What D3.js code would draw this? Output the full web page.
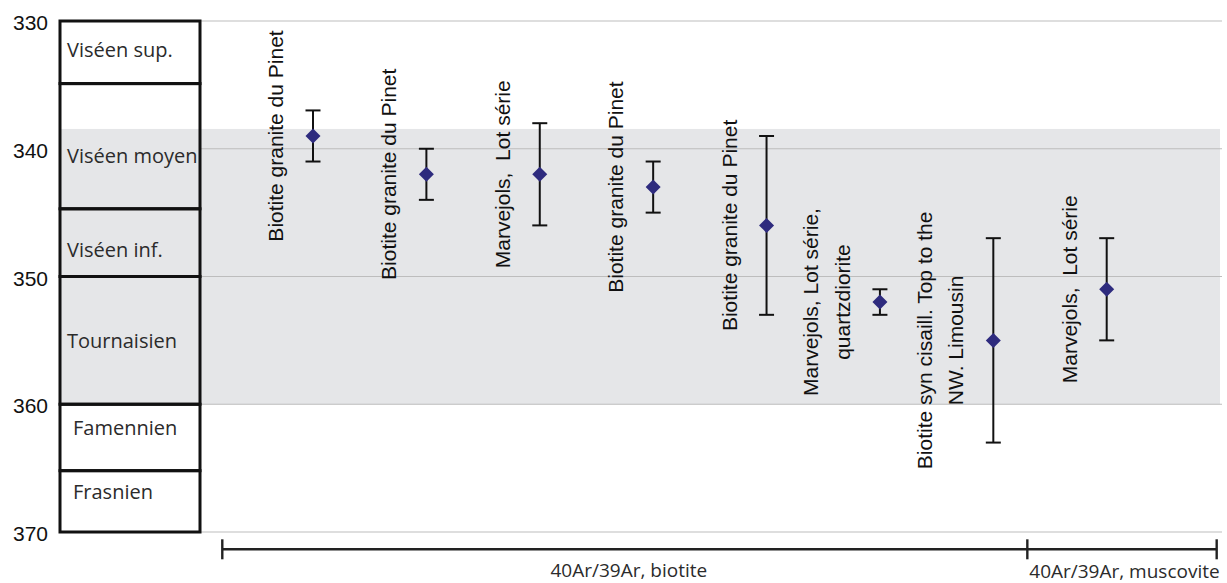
<!DOCTYPE html>
<html>
<head>
<meta charset="utf-8">
<script src="https://cdn.jsdelivr.net/npm/d3@7"></script>
<style>
  html, body { margin: 0; padding: 0; background: #ffffff; }
  svg { display: block; }
  .sample-label { white-space: pre; }
</style>
</head>
<body>
<svg id="chart" width="1227" height="583"></svg>
<script>
// Age axis (Ma)
const ageTicks = [330, 340, 350, 360, 370];

// Stratigraphic column: stage names, their top/base ages and where each name sits
const stageNames = ["Viséen sup.", "Viséen moyen", "Viséen inf.", "Tournaisien", "Famennien", "Frasnien"];
const stageTop = [330, 334.9, 344.7, 350, 360, 365.2];
const stageBase = [334.9, 344.7, 350, 360, 365.2, 370];
const stageLabelAge = [332.8, 341.15, 348.45, 355.6, 362.4, 367.45];

// Shaded age interval
const bandAges = [338.45, 360];

// 40Ar/39Ar ages with their uncertainties (Ma)
const sampleLabels = [
  ["Biotite granite du Pinet"],
  ["Biotite granite du Pinet"],
  ["Marvejols,  Lot série"],
  ["Biotite granite du Pinet"],
  ["Biotite granite du Pinet"],
  ["Marvejols, Lot série,", "quartzdiorite"],
  ["Biotite syn cisaill. Top to the", "NW. Limousin"],
  ["Marvejols,  Lot série"]
];
const sampleAges = [339, 342, 342, 343, 346, 352, 355, 351];
const sampleErrors = [2, 2, 4, 2, 7, 1, 8, 4];

// Dating method groups and how many consecutive samples each covers
const methodNames = ["40Ar/39Ar, biotite", "40Ar/39Ar, muscovite"];
const methodCounts = [7, 1];

const svg = d3.select("#chart");

const colLeft = 60, colRight = 200, plotRight = 1222;

const y = d3.scaleLinear().domain([330, 370]).range([21, 532]);
const x = d3.scalePoint().domain(d3.range(sampleAges.length)).range([313, 1106.7]);
const step = x.step();

// Shaded interval (covers the column interior too)
svg.append("rect")
  .attr("x", colLeft)
  .attr("y", y(bandAges[0]))
  .attr("width", 1220 - colLeft)
  .attr("height", y(bandAges[1]) - y(bandAges[0]))
  .attr("fill", "#e5e6e8");

// Horizontal gridlines
svg.append("g")
  .selectAll("line")
  .data(ageTicks)
  .join("line")
  .attr("x1", colRight)
  .attr("x2", plotRight)
  .attr("y1", d => y(d))
  .attr("y2", d => y(d))
  .attr("stroke", "#bdbdbd")
  .attr("stroke-width", 1.2);

// Age tick labels
svg.append("g")
  .selectAll("text")
  .data(ageTicks)
  .join("text")
  .attr("x", 48)
  .attr("y", d => y(d))
  .attr("dy", 9)
  .attr("text-anchor", "end")
  .attr("font-family", "'Liberation Sans', Arial, sans-serif")
  .attr("font-size", 21)
  .attr("fill", "#111")
  .text(d => d);

// Stratigraphic column
const stages = stageNames.map((name, i) => ({
  name, top: stageTop[i], base: stageBase[i], labelAge: stageLabelAge[i]
}));
const col = svg.append("g");
col.selectAll("rect")
  .data(stages)
  .join("rect")
  .attr("x", colLeft)
  .attr("y", d => y(d.top))
  .attr("width", colRight - colLeft)
  .attr("height", d => y(d.base) - y(d.top))
  .attr("fill", "none")
  .attr("stroke", "#111")
  .attr("stroke-width", 3);
col.selectAll("text")
  .data(stages)
  .join("text")
  .attr("x", d => colLeft + (d.name.startsWith("F") ? 13 : 7))
  .attr("y", d => y(d.labelAge))
  .attr("font-family", "'Open Sans', sans-serif")
  .attr("font-size", 20)
  .attr("fill", "#2b2b2b")
  .text(d => d.name);

// Samples
const samples = sampleAges.map((age, i) => ({
  i, age, err: sampleErrors[i], label: sampleLabels[i]
}));
const capHalf = 7.5;
const g = svg.append("g");

const bars = g.selectAll("g.sample")
  .data(samples)
  .join("g")
  .attr("class", "sample");

bars.append("line")
  .attr("x1", d => x(d.i)).attr("x2", d => x(d.i))
  .attr("y1", d => y(d.age - d.err)).attr("y2", d => y(d.age + d.err))
  .attr("stroke", "#111").attr("stroke-width", 2);
bars.append("line")
  .attr("x1", d => x(d.i) - capHalf).attr("x2", d => x(d.i) + capHalf)
  .attr("y1", d => y(d.age - d.err)).attr("y2", d => y(d.age - d.err))
  .attr("stroke", "#111").attr("stroke-width", 2);
bars.append("line")
  .attr("x1", d => x(d.i) - capHalf).attr("x2", d => x(d.i) + capHalf)
  .attr("y1", d => y(d.age + d.err)).attr("y2", d => y(d.age + d.err))
  .attr("stroke", "#111").attr("stroke-width", 2);

// Diamond markers
bars.append("path")
  .attr("d", d => {
    const cx = x(d.i), cy = y(d.age), r = 7.5;
    return `M${cx},${cy - r}L${cx + r},${cy}L${cx},${cy + r}L${cx - r},${cy}Z`;
  })
  .attr("fill", "#2e2b7e");

// Rotated sample labels (last line nearest the marker)
const lineGap = 31.6;
bars.each(function(d) {
  const n = d.label.length;
  d.label.forEach((line, k) => {
    const bx = x(d.i) - 30 - (n - 1 - k) * lineGap;
    const by = y(d.age);
    d3.select(this).append("text")
      .attr("class", "sample-label")
      .attr("transform", `translate(${bx},${by}) rotate(-90)`)
      .attr("text-anchor", "middle")
      .attr("font-family", "'Liberation Sans', Arial, sans-serif")
      .attr("font-size", 21)
      .attr("fill", "#111")
      .text(line);
  });
});

// Method brackets under the samples
const bracketY = 549.3, tickHalf = 10;
let start = 0;
const groups = methodNames.map((name, k) => {
  const first = start, last = start + methodCounts[k] - 1;
  start += methodCounts[k];
  return { name, first, last };
});
const edges = [
  x(0) - 0.8 * step,
  x(groups[0].last) + 0.3 * step,
  x(sampleAges.length - 1) + 0.97 * step
];
const br = svg.append("g");
br.append("line")
  .attr("x1", edges[0]).attr("x2", edges[2])
  .attr("y1", bracketY).attr("y2", bracketY)
  .attr("stroke", "#222").attr("stroke-width", 2.6);
br.selectAll("line.tick")
  .data(edges)
  .join("line")
  .attr("class", "tick")
  .attr("x1", d => d).attr("x2", d => d)
  .attr("y1", bracketY - tickHalf).attr("y2", bracketY + tickHalf)
  .attr("stroke", "#222").attr("stroke-width", 2.4);
br.selectAll("text")
  .data(groups)
  .join("text")
  .attr("x", (d, k) => k === 0 ? (edges[0] + edges[1]) / 2 + 4 : edges[2] + 3)
  .attr("y", (d, k) => k === 0 ? 576.7 : 577.5)
  .attr("text-anchor", (d, k) => k === 0 ? "middle" : "end")
  .attr("font-family", "'Open Sans', sans-serif")
  .attr("font-size", 19)
  .attr("fill", "#2b2b2b")
  .text(d => d.name);
</script>
</body>
</html>
